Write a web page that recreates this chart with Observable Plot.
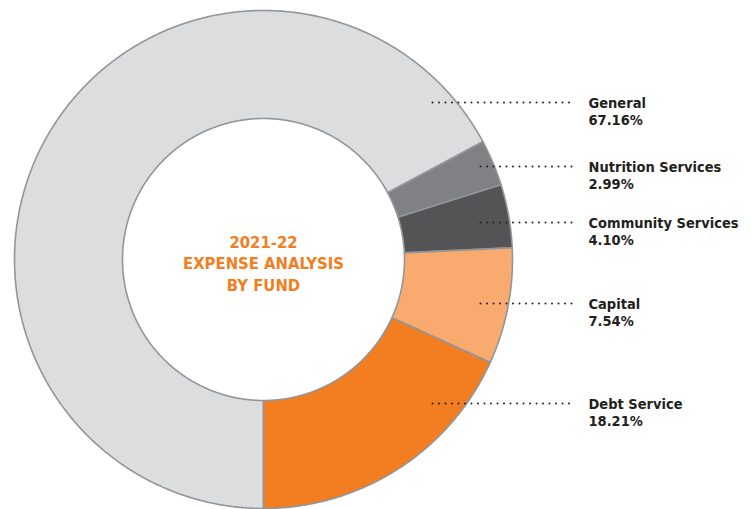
<!DOCTYPE html>
<html>
<head>
<meta charset="utf-8">
<script src="https://cdn.jsdelivr.net/npm/d3@7"></script>
<script src="https://cdn.jsdelivr.net/npm/@observablehq/plot@0.6"></script>
<style>
  html, body { margin: 0; padding: 0; background: #ffffff; }
  #chart { width: 751px; height: 509px; }
</style>
</head>
<body>
<div id="chart"></div>
<script>
// ---- data ----
const funds = ["General", "Nutrition Services", "Community Services", "Capital", "Debt Service"];
const shares = [67.16, 2.99, 4.10, 7.54, 18.21];
const pctLabels = ["67.16%", "2.99%", "4.10%", "7.54%", "18.21%"];
const centerTitle = ["2021-22", "EXPENSE ANALYSIS", "BY FUND"];

// ---- layout (pixels, y up from donut centre) ----
const W = 751, H = 509;
const cx = 263, cy = 259;
const rOuter = 249, rInner = 141;
const labelNameY = [102, 166, 222, 303, 403];      // screen y of first label line
const leaderStartX = [432, 480, 480, 480, 432];
const leaderEndX = 575;
const labelX = 588;
const colors = ["#dcdddf", "#808184", "#545456", "#f9aa6f", "#f37e22"];

const toY = sy => cy - sy; // screen y -> data y

// slices via d3.pie (clockwise from bottom)
const arcs = d3.pie().sort(null).startAngle(Math.PI).endAngle(3 * Math.PI)(shares);
const slicePts = [];
arcs.forEach((a, i) => {
  const n = Math.max(2, Math.ceil((a.endAngle - a.startAngle) / 0.005));
  for (let k = 0; k <= n; k++) {
    const t = a.startAngle + (a.endAngle - a.startAngle) * k / n;
    slicePts.push({fund: funds[i], x: rOuter * Math.sin(t), y: rOuter * Math.cos(t)});
  }
  for (let k = n; k >= 0; k--) {
    const t = a.startAngle + (a.endAngle - a.startAngle) * k / n;
    slicePts.push({fund: funds[i], x: rInner * Math.sin(t), y: rInner * Math.cos(t)});
  }
});

const leaders = funds.map((f, i) => ({fund: f, x1: leaderStartX[i] - cx, x2: leaderEndX - cx, y: toY(labelNameY[i])}));
const labels = funds.map((f, i) => ({text: f + "\n" + pctLabels[i], x: labelX - cx, y: toY(labelNameY[i] + 8.5)}));

const font = "'DejaVu Sans Condensed', 'DejaVu Sans', sans-serif";

const chart = Plot.plot({
  width: W,
  height: H,
  margin: 0,
  x: {domain: [-cx, W - cx], range: [0, W], axis: null},
  y: {domain: [cy - H, cy], range: [H, 0], axis: null},
  color: {domain: funds, range: colors},
  style: {fontFamily: font, background: "#ffffff", fontStretch: "condensed"},
  marks: [
    Plot.line(slicePts, {
      x: "x", y: "y", z: "fund", fill: "fund",
      stroke: "#939598", strokeWidth: 1.6, curve: "linear-closed", strokeLinejoin: "round"
    }),
    Plot.link(leaders, {
      x1: "x1", x2: "x2", y1: "y", y2: "y",
      stroke: "#231f20", strokeWidth: 2, strokeDasharray: "0,6.5", strokeLinecap: "round"
    }),
    Plot.text(labels, {
      x: "x", y: "y", text: "text", textAnchor: "start", lineAnchor: "middle",
      lineHeight: 1.16, fontSize: 14.5, fontWeight: "bold", fill: "#231f20"
    }),
    Plot.text([centerTitle.join("\n")], {
      x: 0, y: 0, dy: 3, text: d => d, textAnchor: "middle", lineAnchor: "middle",
      lineHeight: 1.3, fontSize: 16.5, fontWeight: "bold", fill: "#f37e22"
    })
  ]
});
document.getElementById("chart").appendChild(chart);
</script>
</body>
</html>
